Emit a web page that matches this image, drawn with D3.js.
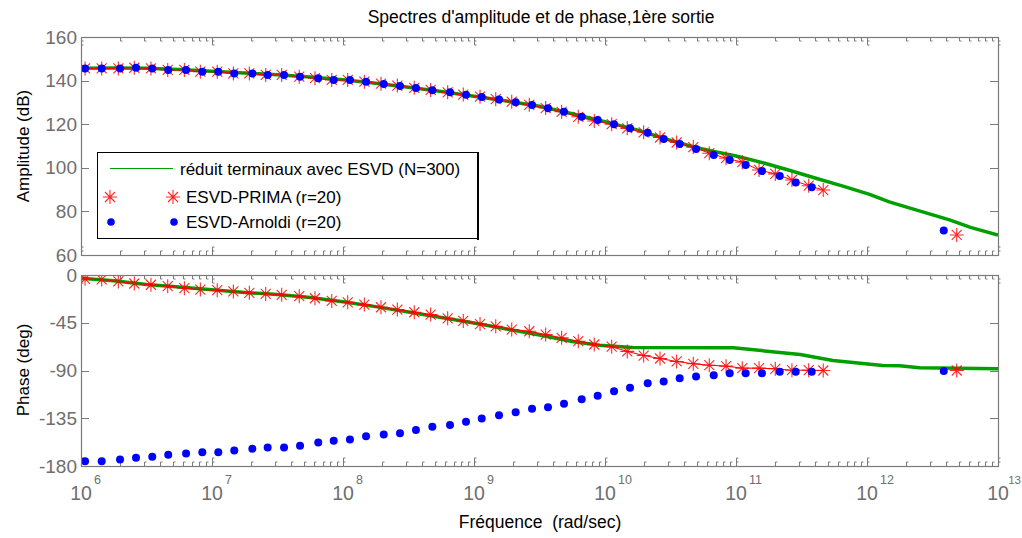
<!DOCTYPE html>
<html><head><meta charset="utf-8">
<script src="https://cdn.jsdelivr.net/npm/d3@7"></script>
<style>body{margin:0;background:#fff}svg{display:block}text{font-family:Arial,"Liberation Sans",sans-serif}</style>
</head><body><svg id="c" width="1022" height="538"></svg>
<script>
// ---------- data (log10 of frequency in rad/s) ----------
const redLogF = [6.031,6.158,6.285,6.407,6.534,6.662,6.789,6.911,7.040,7.163,7.285,7.410,7.532,7.666,7.786,7.914,8.036,8.163,8.290,8.415,8.544,8.669,8.799,8.918,9.046,9.166,9.288,9.422,9.547,9.669,9.796,9.918,10.051,10.170,10.295,10.420,10.547,10.674,10.796,10.924,11.048,11.176,11.300,11.427,11.555,11.666];
const redAmp = [145.6,145.6,145.6,145.9,145.6,144.9,144.9,144.1,144.1,143.3,143.3,142.6,142.6,141.8,141.1,140.3,140.3,139.5,138.6,137.7,136.7,135.7,134.6,133.6,132.6,131.5,130.3,128.9,127.4,125.7,123.4,121.5,120.0,118.1,116.3,113.9,111.6,109.5,106.7,104.4,102.6,99.0,97.2,94.4,91.8,89.8];
const redPhase = [-3.6,-4.2,-6.1,-8.0,-9.2,-10.5,-12.4,-13.7,-14.3,-15.5,-16.8,-17.8,-18.7,-20.0,-21.9,-24.4,-25.7,-27.9,-30.4,-32.6,-35.1,-37.3,-40.8,-43.3,-46.2,-48.4,-51.4,-53.0,-56.1,-59.2,-62.4,-65.5,-67.6,-72.0,-75.9,-78.7,-81.5,-83.7,-85.0,-85.9,-87.8,-87.8,-88.4,-89.7,-89.7,-90.0];
const redExtra = {logF:12.685, amp:69.2, phase:-90.0};

const blueLogF = [6.031,6.158,6.298,6.420,6.544,6.666,6.802,6.926,7.048,7.170,7.308,7.425,7.550,7.672,7.811,7.929,8.053,8.176,8.311,8.435,8.557,8.682,8.817,8.939,9.059,9.191,9.318,9.443,9.565,9.687,9.822,9.944,10.069,10.191,10.326,10.448,10.570,10.695,10.830,10.952,11.074,11.198,11.334,11.456,11.578];
const blueAmp = [145.6,145.6,145.6,145.9,145.6,144.9,144.9,144.1,144.1,143.3,143.3,142.6,142.6,141.8,141.1,140.3,140.3,139.5,138.4,137.5,136.6,135.6,134.6,133.5,132.5,131.3,130.1,128.8,127.3,125.7,123.4,121.9,120.0,118.1,116.1,113.2,110.9,108.6,105.9,103.6,101.3,98.5,96.2,93.2,91.1];
const bluePhase = [-175.5,-175.5,-173.9,-172.3,-171.3,-169.4,-168.2,-167.0,-167.0,-165.4,-163.8,-162.6,-162.6,-161.0,-157.9,-156.3,-155.1,-152.0,-150.4,-149.2,-146.0,-142.9,-141.3,-138.4,-135.3,-132.2,-129.3,-126.1,-124.6,-121.4,-117.0,-113.8,-109.5,-106.3,-101.9,-100.4,-97.3,-95.7,-94.4,-92.5,-92.5,-92.5,-91.2,-91.2,-91.2];
const blueExtra = {logF:12.586, amp:71.2, phase:-90.5};

const greenAmpLogF = [6.0,6.25,6.5,6.75,7.0,7.25,7.5,7.75,8.0,8.25,8.5,8.75,9.0,9.25,9.5,9.75,10.0,10.25,10.5,10.7,10.85,11.0,11.22,11.4,11.61,11.81,12.02,12.17,12.38,12.63,12.79,13.0];
const greenAmp = [145.7,145.8,145.7,145.1,144.3,143.5,142.7,141.6,140.4,138.8,136.9,135.0,132.8,130.6,128.2,124.8,121.2,117.3,112.6,109.2,107.3,105.4,102.1,99.0,95.2,91.7,87.8,84.4,80.6,76.1,72.7,69.2];
const greenPhaseLogF = [6.0,6.25,6.5,6.75,7.0,7.25,7.5,7.75,8.0,8.25,8.5,8.75,9.0,9.2,9.5,9.75,9.96,10.21,10.98,11.49,11.74,12.12,12.25,12.40,13.0];
const greenPhase = [-3.0,-5.5,-8.9,-11.3,-14.0,-16.5,-18.4,-21.3,-25.2,-29.8,-34.9,-40.0,-45.2,-49.8,-56.6,-62.6,-66.2,-68.4,-68.6,-74.9,-80.6,-85.3,-85.6,-87.5,-88.4];

const ampTicks = [60,80,100,120,140,160];
const phaseTicks = [-180,-135,-90,-45,0];
const decades = [6,7,8,9,10,11,12,13];
const legendLabels = ["réduit terminaux avec ESVD (N=300)","ESVD-PRIMA (r=20)","ESVD-Arnoldi (r=20)"];
const titleText = "Spectres d'amplitude et de phase,1ère sortie";

// ---------- layout ----------
const svg = d3.select("#c");
const L = 81, R = 998;
const x = d3.scaleLog().domain([1e6,1e13]).range([L,R]);
const yA = d3.scaleLinear().domain([60,160]).range([255,37]);
const yP = d3.scaleLinear().domain([-180,0]).range([466,275]);
const AX = "#7a7a7a", LBL = "#6e6e6e";
const GREEN = "#00a000", RED = "#ff0000", BLUE = "#0000ff";
const pw = e => Math.pow(10,e);

svg.append("rect").attr("width",1022).attr("height",538).attr("fill","#fff");

svg.append("text").attr("x",541).attr("y",23).attr("text-anchor","middle")
  .attr("font-size",17.5).attr("fill","#000").text(titleText);

const star = "M-7,0H7M0,-7V7M-5,-5L5,5M-5,5L5,-5";

function panel(y, yTicks, green, gLogF, red, blue, extraKey, ylabel, ylabelY){
  const [y0,y1] = y.range(); // bottom, top
  const g = svg.append("g");
  const minor = [];
  decades.slice(0,-1).forEach(d=>{for(let m=2;m<=9;m++) minor.push(m*pw(d));});
  const tk = g.append("g").attr("stroke",AX).attr("stroke-width",1).attr("fill","none");
  minor.forEach(v=>{
    const xx = Math.round(x(v))+0.5;
    tk.append("path").attr("d",`M${xx},${y0}V${y0-4}h2`);
    tk.append("path").attr("d",`M${xx},${y1}V${y1+4}h2`);
  });
  decades.forEach(d=>{
    const xx = Math.round(x(pw(d)))+0.5;
    tk.append("path").attr("d",`M${xx},${y0}V${y0-8}h2M${xx},${y0-4}h2`);
    tk.append("path").attr("d",`M${xx},${y1}V${y1+8}h2M${xx},${y1+4}h2`);
  });
  yTicks.forEach(v=>{
    const yy = Math.round(y(v))+0.5;
    tk.append("path").attr("d",`M${L},${yy}h8`);
    tk.append("path").attr("d",`M${R},${yy}h-8`);
  });
  yTicks.forEach(v=>{
    g.append("text").attr("x",L-4).attr("y",y(v)+6.5).attr("text-anchor","end")
      .attr("font-size",19).attr("fill",LBL).text(v);
  });
  g.append("text").attr("transform",`translate(29,${ylabelY}) rotate(-90)`)
    .attr("text-anchor","middle").attr("font-size",17).attr("fill","#000").text(ylabel);
  const cid = "clip"+y0;
  svg.append("clipPath").attr("id",cid).append("rect").attr("x",L).attr("y",y1).attr("width",R-L).attr("height",y0-y1);
  const dg = g.append("g").attr("clip-path",`url(#${cid})`);
  const line = d3.line().x(d=>x(pw(d[0]))).y(d=>y(d[1]));
  dg.append("path").attr("d",line(gLogF.map((f,i)=>[f,green[i]])))
    .attr("fill","none").attr("stroke",GREEN).attr("stroke-width",3.5).attr("stroke-linejoin","round");
  const rpts = redLogF.map((f,i)=>[f,red[i]]);
  dg.append("path").attr("d",line(rpts)).attr("fill","none").attr("stroke",RED).attr("stroke-width",1);
  const rAll = rpts.concat([[redExtra.logF, redExtra[extraKey]]]);
  dg.selectAll(null).data(rAll).enter().append("path")
    .attr("transform",d=>`translate(${x(pw(d[0]))},${y(d[1])})`)
    .attr("d",star).attr("fill","none").attr("stroke",RED).attr("stroke-width",1.1).attr("opacity",0.85);
  const bAll = blueLogF.map((f,i)=>[f,blue[i]]).concat([[blueExtra.logF, blueExtra[extraKey]]]);
  dg.selectAll(null).data(bAll).enter().append("circle")
    .attr("cx",d=>x(pw(d[0]))).attr("cy",d=>y(d[1])).attr("r",4).attr("fill",BLUE);
  g.append("rect").attr("x",L+0.5).attr("y",y1+0.5).attr("width",R-L).attr("height",y0-y1)
    .attr("fill","none").attr("stroke",AX).attr("stroke-width",1.2);
  return g;
}

panel(yA, ampTicks, greenAmp, greenAmpLogF, redAmp, blueAmp, "amp", "Amplitude (dB)", 146);
panel(yP, phaseTicks, greenPhase, greenPhaseLogF, redPhase, bluePhase, "phase", "Phase (deg)", 370);

decades.forEach((d,i)=>{
  const xx = x(pw(d));
  svg.append("text").attr("x",xx).attr("y",500).attr("text-anchor","middle")
    .attr("font-size",19.5).attr("fill",LBL).text("10");
  const last = i === decades.length-1;
  svg.append("text").attr("x",last ? 1021 : xx+13).attr("y",484)
    .attr("text-anchor",last ? "end" : "start")
    .attr("font-size",last ? 11.5 : 12.5).attr("fill",LBL).text(d);
});
svg.append("text").attr("x",540).attr("y",528).attr("text-anchor","middle")
  .attr("font-size",17.5).attr("fill","#000").attr("xml:space","preserve").text("Fréquence  (rad/sec)");

const lg = svg.append("g");
lg.append("rect").attr("x",97.5).attr("y",152.5).attr("width",380).attr("height",86)
  .attr("fill","#fff").attr("stroke","#000").attr("stroke-width",1);
lg.append("line").attr("x1",478).attr("x2",478).attr("y1",152).attr("y2",240).attr("stroke","#000").attr("stroke-width",2);
lg.append("line").attr("x1",110).attr("x2",173).attr("y1",168.5).attr("y2",168.5).attr("stroke",GREEN).attr("stroke-width",1);
[110,173].forEach(xx=>{
  lg.append("path").attr("transform",`translate(${xx},197)`).attr("d",star)
    .attr("fill","none").attr("stroke",RED).attr("stroke-width",1.1).attr("opacity",0.85);
  lg.append("circle").attr("cx",xx+1).attr("cy",222).attr("r",3.8).attr("fill",BLUE);
});
[175,203,228].forEach((yy,i)=>{
  lg.append("text").attr("x",i===0?180:186).attr("y",yy).attr("font-size",17).attr("fill","#000").text(legendLabels[i]);
});
</script></body></html>
